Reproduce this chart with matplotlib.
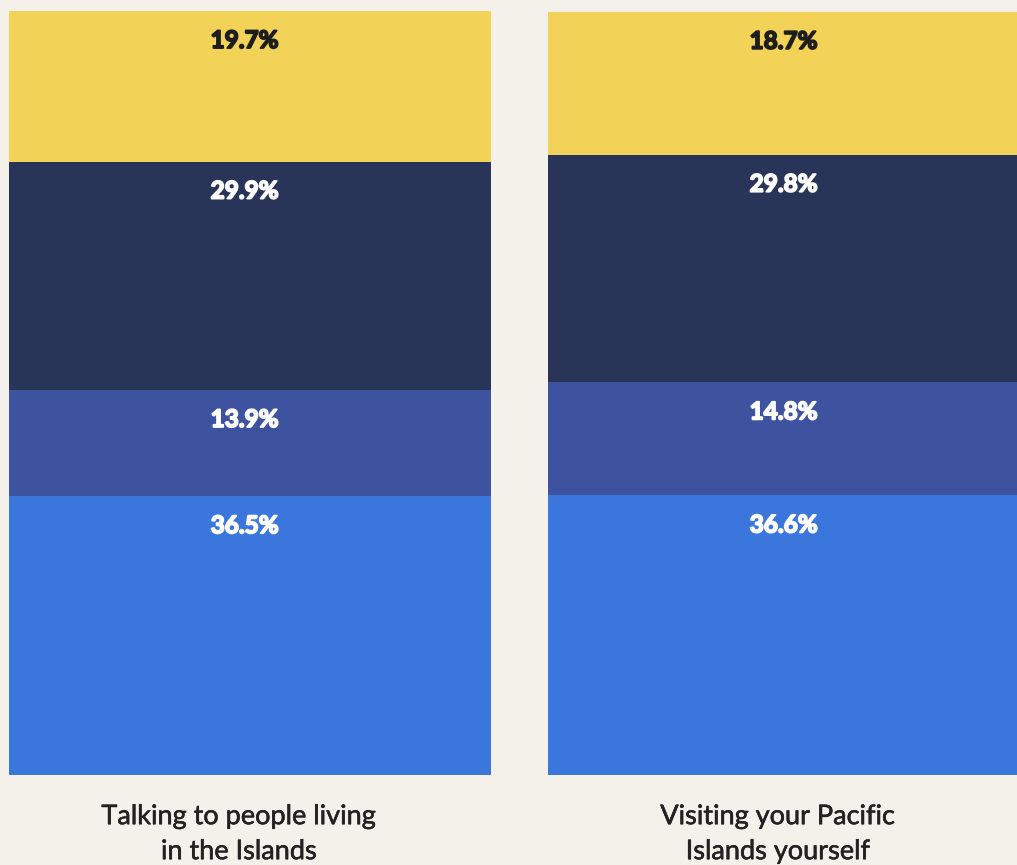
import matplotlib.pyplot as plt
import matplotlib.patheffects as pe
import numpy as np

# données (en %)
categories = ["Talking to people living\nin the Islands", "Visiting your Pacific\nIslands yourself"]
blue = [36.5, 36.6]
purple = [13.9, 14.8]
navy = [29.9, 29.8]
yellow = [19.7, 18.7]

series = [blue, purple, navy, yellow]
colors = ["#3B76DC", "#3E53A0", "#283458", "#F3D258"]
text_colors = ["white", "white", "white", "#1E1E1E"]
bg = "#F4F1EA"

W, H = 1017, 865
fig = plt.figure(figsize=(W / 100, H / 100), dpi=100, facecolor=bg)
ax = fig.add_axes([0, 90 / H, 1, 764 / H])
ax.set_facecolor(bg)

x = np.arange(len(categories))
width = 482 / 539
bottom = np.zeros(len(categories))
for vals, c, tc in zip(series, colors, text_colors):
    vals = np.array(vals)
    ax.bar(x, vals, width, bottom=bottom, color=c, edgecolor="none")
    for xi, b, v in zip(x, bottom, vals):
        ax.annotate(f"{v:.1f}%", (xi, b + v), xytext=(-4, -13), textcoords="offset points",
                    ha="center", va="top", color=tc, fontsize=17.5, fontweight="bold",
                    family="Lato",
                    path_effects=[pe.withStroke(linewidth=1.3, foreground=tc)])
    bottom += vals

ax.set_xlim(-250 / 539, (W - 250) / 539)
ax.set_ylim(0, 100)
ax.axis("off")

# étiquettes des catégories sous les barres
for xi, lab in zip(x, categories):
    ax.annotate(lab, (xi, 0), xytext=(-8, -21), textcoords="offset points",
                ha="center", va="top", fontsize=19.5, color="#222222",
                family="Lato", linespacing=1.5, annotation_clip=False,
                path_effects=[pe.withStroke(linewidth=0.4, foreground="#222222")])

fig.savefig("out.png", dpi=100, facecolor=bg)
